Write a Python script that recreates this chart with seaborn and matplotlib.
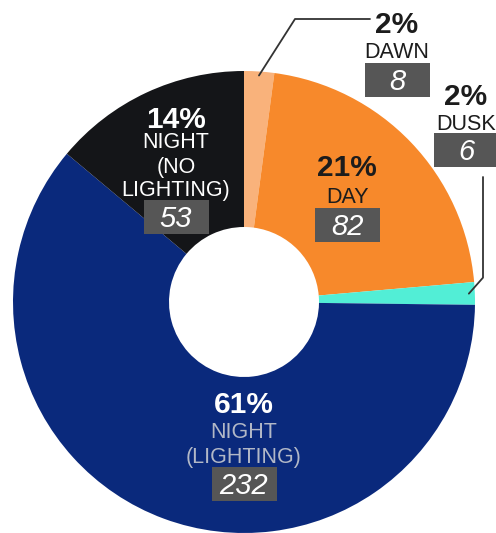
import matplotlib
matplotlib.use("Agg")
import numpy as np
import matplotlib.pyplot as plt
import seaborn as sns
from matplotlib.patches import Rectangle

# Data
categories = ["DAWN", "DAY", "DUSK", "NIGHT\n(LIGHTING)", "NIGHT\n(NO\nLIGHTING)"]
counts = [8, 82, 6, 232, 53]
percents = ["2%", "21%", "2%", "61%", "14%"]
colors = ["#F9B27B", "#F7892B", "#52EED6", "#0A297C", "#141518"]

W, H = 496, 533
PX = 100 / 72  # pixels per point

sns.set_theme(style="white")
plt.rcParams["font.family"] = ["Liberation Sans", "DejaVu Sans"]

fig = plt.figure(figsize=(W / 100, H / 100), dpi=100)
ax = fig.add_axes([0, 0, 1, 1])

# donut, pixel coordinates (y measured from the bottom)
R, r_hole = 231, 75
cx, cy = 244, H - 302
ax.pie(counts, colors=sns.color_palette(colors), startangle=90, counterclock=False,
       radius=R, center=(cx, cy),
       wedgeprops=dict(width=R - r_hole, linewidth=0))
ax.set_xlim(0, W)
ax.set_ylim(0, H)
ax.set_aspect("equal")
ax.axis("off")

box_grey = "#565656"
PCT_SIZE, NAME_SIZE, NUM_SIZE = 21.5, 15.5, 21


def cap_text(x, y_mid, s, size, **kw):
    # place text so that the capital letters are centred on y_mid (pixels from top)
    base = y_mid + 0.716 * size * PX / 2
    ax.text(x, H - base, s, ha="center", va="baseline", fontsize=size, **kw)


def label(i, x, y_pct, y_names, y_box, col_pct, col_name):
    cap_text(x, y_pct, percents[i], PCT_SIZE, fontweight="bold", color=col_pct)
    for line, yl in zip(categories[i].split("\n"), y_names):
        cap_text(x, yl, line, NAME_SIZE, color=col_name)
    ax.add_patch(Rectangle((x - 32.5, H - y_box - 34), 65, 34,
                           facecolor=box_grey, edgecolor="none", zorder=3))
    cap_text(x, y_box + 17, str(counts[i]), NUM_SIZE, fontstyle="italic",
             color="white", zorder=4)


def wedge_point(i, r):
    # point at radius r in the middle of wedge i (clockwise from top)
    c = np.cumsum([0] + counts)
    ang = np.deg2rad(90 - 360 * (c[i] + counts[i] / 2) / c[-1])
    return cx + r * np.cos(ang), cy + r * np.sin(ang)


dark = "#1c1c1c"
# inside labels
label(1, 347, 165, [195], 208, dark, dark)
label(4, 176, 117, [140, 165, 188], 200, "white", "white")
label(3, 244, 402, [430, 455], 467, "white", "#B2B8C7")

# outside labels
label(0, 397, 22, [50], 63, dark, dark)
label(2, 466, 94, [122], 133, dark, dark)

# leader lines
x0, y0 = wedge_point(0, R - 4)
ax.plot([x0, 295, 370], [y0, H - 19, H - 19], color="#333333", lw=1.3)
x2, y2 = wedge_point(2, R - 6)
ax.plot([483, 483, x2], [H - 177, y2 + 16, y2], color="#333333", lw=1.3)

fig.savefig("out.png", dpi=100, facecolor="white")
